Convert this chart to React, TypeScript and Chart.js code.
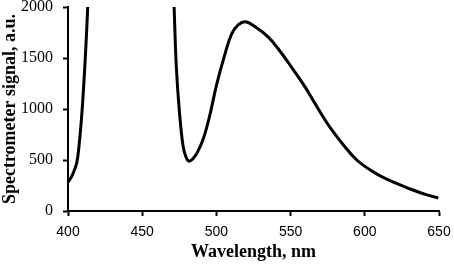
import React, { useEffect, useRef } from "react";
import { Chart, registerables } from "chart.js";

Chart.register(...registerables);

const wavelengths = [400, 402, 404, 406, 407.5, 409, 410.5, 412, 413.3, 414.5, 416, 469, 470.5, 471.5, 473, 475, 477.5, 479.5, 481.5, 484, 487, 491, 495.5, 500, 505.7, 510.2, 514.7, 519.6, 525.9, 534.8, 541.5, 550.5, 559.5, 566.2, 572.9, 578, 585.2, 594.2, 605.5, 616.7, 630.2, 641.3, 649.5];
const signal = [285, 325, 390, 480, 650, 890, 1210, 1600, 2000, 2400, 2800, 2800, 2400, 2000, 1412, 987, 640, 530, 489, 510, 570, 700, 935, 1230, 1535, 1735, 1825, 1855, 1808, 1707, 1593, 1413, 1222, 1060, 900, 790, 655, 505, 385, 300, 218, 160, 128];

const xTitle = "Wavelength, nm";
const yTitle = "Spectrometer signal, a.u.";

export default function App() {
  const ref = useRef<HTMLCanvasElement>(null);
  useEffect(() => {
    document.body.style.margin = "0";
    const ctx = ref.current!;
    const chart = new Chart(ctx, {
      type: "line",
      data: {
        datasets: [
          {
            data: wavelengths.map((x, i) => ({ x, y: signal[i] })),
            borderColor: "#000",
            borderWidth: 3,
            pointRadius: 0,
            tension: 0.4,
            fill: false,
          },
        ],
      },
      options: {
        responsive: false,
        animation: false,
        events: [],
        layout: { padding: { top: 7, right: 15, bottom: 0, left: 0 } },
        plugins: { legend: { display: false }, tooltip: { enabled: false } },
        scales: {
          x: {
            type: "linear",
            min: 400,
            max: 650,
            ticks: {
              stepSize: 50,
              color: "#000",
              padding: 8,
              maxRotation: 0,
              callback: (v: any) => String(v),
              font: { family: "'Liberation Sans', Arial, sans-serif", size: 14 },
            },
            grid: { drawOnChartArea: false, drawTicks: true, tickLength: 5, tickColor: "#000", tickWidth: 2 },
            border: { display: true, color: "#000", width: 2 },
            title: {
              display: true,
              text: xTitle,
              color: "#000",
              padding: { top: 0, bottom: 5 },
              font: { family: "'Liberation Serif', 'Times New Roman', serif", size: 18, weight: "bold" },
            },
            afterFit: (s: any) => {
              s.height = 57;
              s.paddingLeft = 0;
              s.paddingRight = 0;
            },
          },
          y: {
            min: 0,
            max: 2000,
            ticks: {
              stepSize: 500,
              color: "#000",
              padding: 10,
              callback: (v: any) => String(v),
              font: { family: "'Liberation Serif', 'Times New Roman', serif", size: 16 },
            },
            grid: { drawOnChartArea: false, drawTicks: true, tickLength: 5, tickColor: "#000", tickWidth: 2 },
            border: { display: true, color: "#000", width: 2 },
            title: {
              display: true,
              text: yTitle,
              color: "#000",
              padding: { top: 0, bottom: 0 },
              font: { family: "'Liberation Serif', 'Times New Roman', serif", size: 18, weight: "bold" },
            },
            afterFit: (s: any) => {
              s.width = 68;
              s.paddingTop = 0;
              s.paddingBottom = 0;
            },
          },
        },
      },
    });
    return () => chart.destroy();
  }, []);
  return (
    <div style={{ width: 454, height: 268 }}>
      <canvas ref={ref} width={454} height={268} style={{ display: "block" }} />
    </div>
  );
}
